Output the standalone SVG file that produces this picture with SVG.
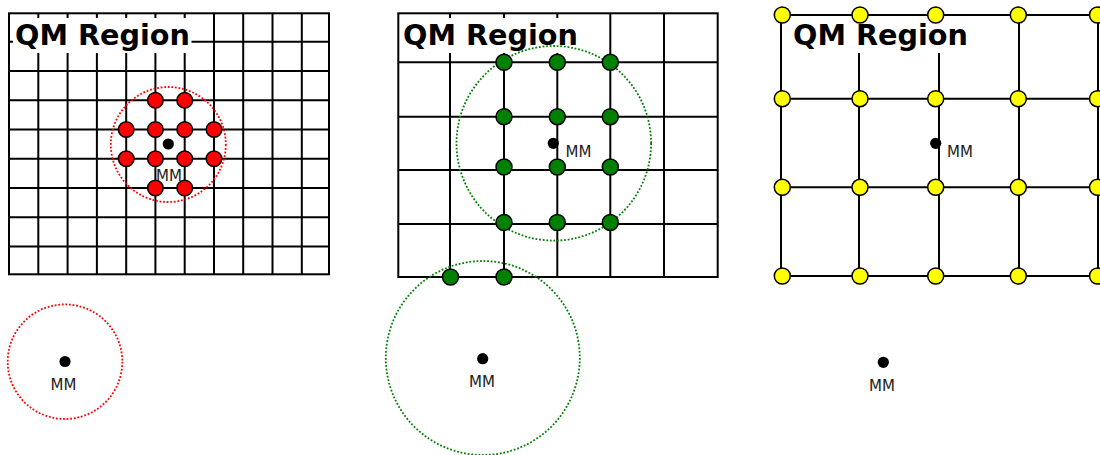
<svg xmlns="http://www.w3.org/2000/svg" width="1100" height="455" viewBox="0 0 1100 455">
<style>
.g{stroke:#000;stroke-width:2;fill:none}
.box{fill:#fff;stroke:none}
.t{font-family:"DejaVu Sans",sans-serif;font-weight:bold;font-size:28.7px;fill:#000}
.mm{font-family:"DejaVu Sans",sans-serif;font-size:15px;fill:#222}
.dot{fill:#000}
.red{fill:#ff0000;stroke:#000;stroke-width:1.5}
.grn{fill:#008000;stroke:#000;stroke-width:1.5}
.yel{fill:#ffff00;stroke:#000;stroke-width:1.5}
.rc{fill:none;stroke:#ff0000;stroke-width:1.8;stroke-dasharray:1.8 1.8}
.gc{fill:none;stroke:#008000;stroke-width:1.8;stroke-dasharray:1.8 1.8}
</style>
<rect width="1100" height="455" fill="#fff"/>
<g id="connectors">
<g id="grid1" class="g">
<rect x="9" y="13.3" width="320" height="261"/>
<path d="M38.3 13.3V274.3M67.6 13.3V274.3M96.9 13.3V274.3M126.2 13.3V274.3M155.4 13.3V274.3M184.7 13.3V274.3M214 13.3V274.3M243.2 13.3V274.3M272.5 13.3V274.3M301.8 13.3V274.3"/>
<path d="M9 41.8H329M9 71H329M9 100.3H329M9 129.5H329M9 158.8H329M9 188H329M9 217.3H329M9 246.5H329"/>
</g>
<g id="grid2" class="g">
<rect x="398.3" y="13.3" width="319.4" height="263.7"/>
<path d="M450 13.3V277M504 13.3V277M557.3 13.3V277M610.3 13.3V277M664 13.3V277"/>
<path d="M398.3 62.3H717.7M398.3 116.7H717.7M398.3 170H717.7M398.3 224H717.7"/>
</g>
<g id="grid3" class="g">
<path d="M781 15H1100M781 98.7H1100M781 187.3H1100M781 276H1100"/>
<path d="M781 15V276M859 15V276M939 15V276M1019 15V276M1098 15V276"/>
</g>
</g>
<g id="label1"><rect class="box" x="13" y="18" width="178.5" height="35"/><text class="t" x="15" y="45">QM Region</text></g>
<g id="label2"><rect class="box" x="400.5" y="18" width="178" height="35"/><text class="t" x="403" y="44.5">QM Region</text></g>
<g id="label3"><rect class="box" x="782.5" y="18" width="188" height="35"/><text class="t" x="793" y="44.5">QM Region</text></g>
<g id="panel1">
<circle class="rc" cx="168.3" cy="144.5" r="57.5"/>
<circle class="red" cx="155.4" cy="100.3" r="7.8"/><circle class="red" cx="184.7" cy="100.3" r="7.8"/>
<circle class="red" cx="126.2" cy="129.5" r="7.8"/><circle class="red" cx="155.4" cy="129.5" r="7.8"/><circle class="red" cx="184.7" cy="129.5" r="7.8"/><circle class="red" cx="214" cy="129.5" r="7.8"/>
<circle class="red" cx="126.2" cy="158.8" r="7.8"/><circle class="red" cx="155.4" cy="158.8" r="7.8"/><circle class="red" cx="184.7" cy="158.8" r="7.8"/><circle class="red" cx="214" cy="158.8" r="7.8"/>
<circle class="red" cx="155.4" cy="188" r="7.8"/><circle class="red" cx="184.7" cy="188" r="7.8"/>
<circle class="dot" cx="168.3" cy="144" r="5.6"/>
<text class="mm" x="169" y="180.5" text-anchor="middle">MM</text>
</g>
<g id="mm1">
<circle class="rc" cx="65" cy="361.7" r="57.3"/>
<circle class="dot" cx="65" cy="361.5" r="5.6"/>
<text class="mm" x="63.5" y="389.5" text-anchor="middle">MM</text>
</g>
<g id="panel2">
<circle class="gc" cx="553.8" cy="143.3" r="97.3"/>
<circle class="grn" cx="504" cy="62.3" r="8"/><circle class="grn" cx="557.3" cy="62.3" r="8"/><circle class="grn" cx="610.3" cy="62.3" r="8"/>
<circle class="grn" cx="504" cy="116.7" r="8"/><circle class="grn" cx="557.3" cy="116.7" r="8"/><circle class="grn" cx="610.3" cy="116.7" r="8"/>
<circle class="grn" cx="504" cy="167" r="8"/><circle class="grn" cx="557.3" cy="167" r="8"/><circle class="grn" cx="610.3" cy="167" r="8"/>
<circle class="grn" cx="504" cy="222.5" r="8"/><circle class="grn" cx="557.3" cy="222.5" r="8"/><circle class="grn" cx="610.3" cy="222.5" r="8"/>
<circle class="dot" cx="553.3" cy="143.3" r="5.6"/>
<text class="mm" x="565.5" y="156.5">MM</text>
</g>
<g id="mm2">
<circle class="gc" cx="482.8" cy="358" r="97"/>
<circle class="grn" cx="450.5" cy="277" r="8"/><circle class="grn" cx="504" cy="277" r="8"/>
<circle class="dot" cx="482.7" cy="358.7" r="5.6"/>
<text class="mm" x="482" y="387" text-anchor="middle">MM</text>
</g>
<g id="panel3">
<circle class="yel" cx="782.3" cy="15" r="8"/><circle class="yel" cx="860" cy="15" r="8"/><circle class="yel" cx="935.7" cy="15" r="8"/><circle class="yel" cx="1018.3" cy="15" r="8"/><circle class="yel" cx="1097.5" cy="15" r="8"/>
<circle class="yel" cx="782.3" cy="98.7" r="8"/><circle class="yel" cx="860" cy="98.7" r="8"/><circle class="yel" cx="935.7" cy="98.7" r="8"/><circle class="yel" cx="1018.3" cy="98.7" r="8"/><circle class="yel" cx="1097.5" cy="98.7" r="8"/>
<circle class="yel" cx="782.3" cy="187.3" r="8"/><circle class="yel" cx="860" cy="187.3" r="8"/><circle class="yel" cx="935.7" cy="187.3" r="8"/><circle class="yel" cx="1018.3" cy="187.3" r="8"/><circle class="yel" cx="1097.5" cy="187.3" r="8"/>
<circle class="yel" cx="782.3" cy="276" r="8"/><circle class="yel" cx="860" cy="276" r="8"/><circle class="yel" cx="935.7" cy="276" r="8"/><circle class="yel" cx="1018.3" cy="276" r="8"/><circle class="yel" cx="1097.5" cy="276" r="8"/>
<circle class="dot" cx="935.7" cy="143.3" r="5.6"/>
<text class="mm" x="947" y="156.5">MM</text>
</g>
<g id="mm3">
<circle class="dot" cx="883.3" cy="362.3" r="5.6"/>
<text class="mm" x="882" y="390.5" text-anchor="middle">MM</text>
</g>
</svg>
